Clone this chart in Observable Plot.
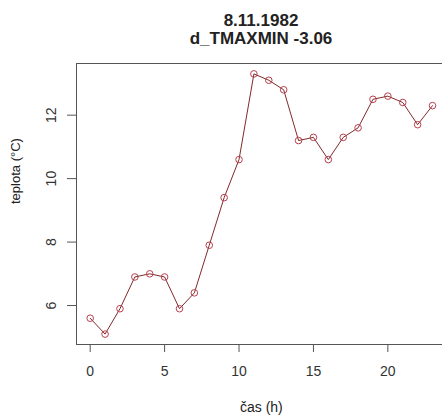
<!DOCTYPE html>
<html>
<head>
<meta charset="utf-8">
<script src="https://cdn.jsdelivr.net/npm/d3@7"></script>
<script src="https://cdn.jsdelivr.net/npm/@observablehq/plot@0.6"></script>
<style>
  html, body { margin: 0; padding: 0; background: #fff; overflow: hidden; }
  #wrap { width: 450px; }
  #title {
    font-family: "Liberation Sans", Arial, sans-serif;
    font-weight: bold; font-size: 17px; line-height: 18px;
    color: #222; text-align: center;
    padding: 12px 4px 0 76px; width: 370px; height: 38px;
  }
</style>
</head>
<body>
<div id="wrap">
  <div id="title">8.11.1982<br>d_TMAXMIN -3.06</div>
  <div id="chart"></div>
</div>
<script>
const titleLines = ["8.11.1982", "d_TMAXMIN -3.06"];
const hours = [0, 1, 2, 3, 4, 5, 6, 7, 8, 9, 10, 11, 12, 13, 14, 15, 16, 17, 18, 19, 20, 21, 22, 23];
const temps = [5.6, 5.1, 5.9, 6.9, 7.0, 6.9, 5.9, 6.4, 7.9, 9.4, 10.6, 13.3, 13.1, 12.8, 11.2, 11.3, 10.6, 11.3, 11.6, 12.5, 12.6, 12.4, 11.7, 12.3];
const xTicks = [0, 5, 10, 15, 20];
const yTicks = [6, 8, 10, 12];
const xLabel = "čas (h)";
const yLabel = "teplota (°C)";

const data = hours.map((h, i) => ({h, t: temps[i]}));

const font = '"Liberation Sans", Arial, sans-serif';
const plot = Plot.plot({
  width: 450,
  height: 368,
  marginTop: 13,
  marginBottom: 74,
  marginLeft: 76,
  marginRight: 4.3,
  x: {domain: [-0.92, 23.92]},
  y: {domain: [4.772, 13.628]},
  style: {fontFamily: font, fontSize: "14px", color: "#333", background: "white"},
  marks: [
    Plot.frame({stroke: "#555", strokeWidth: 1}),
    Plot.axisX(xTicks, {tickSize: 8, tickPadding: 14, fontSize: 14, label: null, stroke: "#555"}),
    Plot.axisY(yTicks, {tickSize: 9, tickFormat: () => "", label: null, stroke: "#555"}),
    Plot.text(yTicks, {y: d => d, text: d => String(d), frameAnchor: "left", dx: -25, rotate: -90, textAnchor: "middle", lineAnchor: "middle", fontSize: 14, fill: "#333"}),
    Plot.text([xLabel], {frameAnchor: "bottom", text: d => d, dy: 63, lineAnchor: "middle", fontSize: 14, fill: "#222"}),
    Plot.text([yLabel], {frameAnchor: "left", text: d => d, dx: -61, rotate: -90, lineAnchor: "middle", fontSize: 13, fill: "#222"}),
    Plot.line(data, {x: "h", y: "t", stroke: "#7f2a2a", strokeWidth: 1}),
    Plot.dot(data, {x: "h", y: "t", r: 3.3, stroke: "#b8404e", fill: "none", strokeWidth: 1})
  ]
});
document.getElementById("chart").appendChild(plot);
</script>
</body>
</html>
